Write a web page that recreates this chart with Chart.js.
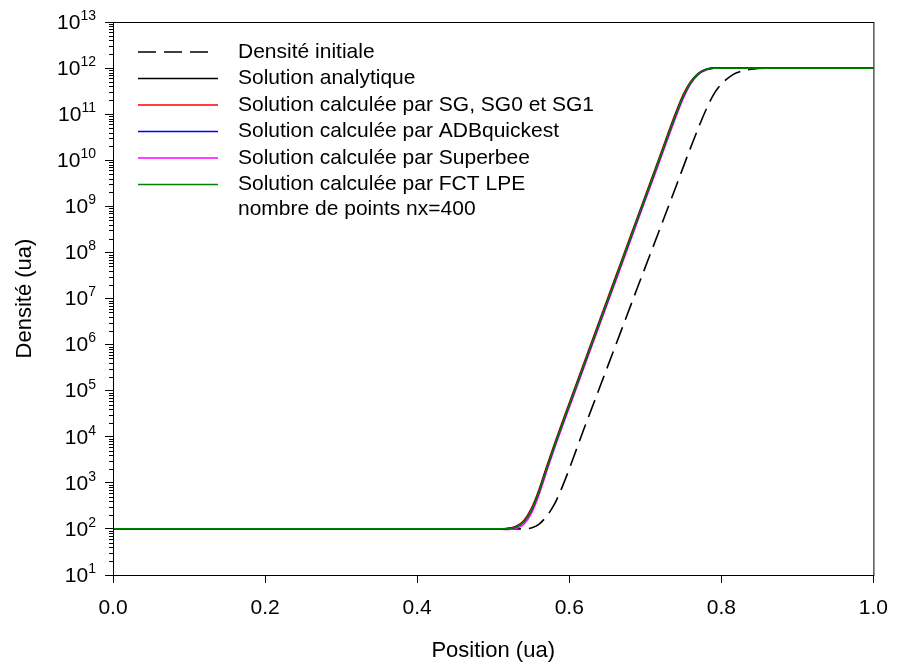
<!DOCTYPE html>
<html>
<head>
<meta charset="utf-8">
<script src="https://cdn.jsdelivr.net/npm/chart.js@4.4.0/dist/chart.umd.min.js"></script>
<style>
    html, body { margin: 0; padding: 0; background: #fff; }
</style>
</head>
<body>
<canvas id="densityChart" width="901" height="666"></canvas>
<script>
// values
const positions = [0, 0.50, 0.52, 0.53, 0.54, 0.55, 0.56, 0.57, 0.58, 0.59, 0.60, 0.62, 0.64, 0.66, 0.68, 0.70, 0.72, 0.74, 0.75, 0.76, 0.77, 0.78, 0.79, 1.0];

const analytique = [100, 100, 102, 110, 141, 251, 631, 1995, 6026, 1.74e4, 4.9e4, 3.9e5, 3.1e6, 2.45e7, 1.95e8, 1.55e9, 1.23e10, 9.8e10, 2.5e11, 5.0e11, 7.6e11, 9.3e11, 1e12, 1e12];
const solSG = [100, 100, 103, 114, 150, 275, 700, 2200, 6630, 1.91e4, 5.4e4, 4.3e5, 3.4e6, 2.7e7, 2.15e8, 1.7e9, 1.35e10, 1.08e11, 2.7e11, 5.2e11, 7.8e11, 9.4e11, 1e12, 1e12];
const solADB = [100, 100, 102, 111, 143, 255, 640, 2020, 6090, 1.76e4, 4.95e4, 3.94e5, 3.13e6, 2.47e7, 1.97e8, 1.57e9, 1.24e10, 9.9e10, 2.5e11, 5.0e11, 7.6e11, 9.3e11, 1e12, 1e12];
const solSuperbee = [100, 100, 97, 102, 125, 215, 540, 1700, 5240, 1.51e4, 4.26e4, 3.4e5, 2.7e6, 2.13e7, 1.7e8, 1.35e9, 1.07e10, 8.5e10, 2.2e11, 4.6e11, 7.3e11, 9.1e11, 9.9e11, 1e12];
const solFCT = [100, 100, 102, 110, 142, 252, 632, 2000, 6026, 1.74e4, 4.9e4, 3.9e5, 3.1e6, 2.45e7, 1.95e8, 1.55e9, 1.23e10, 9.8e10, 2.5e11, 5.0e11, 7.6e11, 9.3e11, 1e12, 1e12];

const initPositions = [0, 0.54, 0.55, 0.56, 0.57, 0.58, 0.59, 0.60, 0.61, 0.62, 0.64, 0.66, 0.68, 0.70, 0.72, 0.74, 0.76, 0.78, 0.79, 0.80, 0.81, 0.82, 0.84, 0.86, 1.0];
const initiale = [100, 100, 105, 126, 186, 331, 759, 1995, 5623, 1.58e4, 1.17e5, 8.7e5, 6.5e6, 4.8e7, 3.5e8, 2.6e9, 1.95e10, 1.26e11, 2.7e11, 4.5e11, 6.3e11, 7.9e11, 9.5e11, 1e12, 1e12];

const xTicks = [0, 0.2, 0.4, 0.6, 0.8, 1.0];
const yTicks = [1e1, 1e2, 1e3, 1e4, 1e5, 1e6, 1e7, 1e8, 1e9, 1e10, 1e11, 1e12, 1e13];
const yTickExps = ['1', '2', '3', '4', '5', '6', '7', '8', '9', '10', '11', '12', '13'];

const legendLabels = [
    'Densité initiale',
    'Solution analytique',
    'Solution calculée par SG, SG0 et SG1',
    'Solution calculée par ADBquickest',
    'Solution calculée par Superbee',
    'Solution calculée par FCT LPE'
];
const legendNote = 'nombre de points nx=400';

const FONT = "'Liberation Sans', Arial, sans-serif";

function toPoints(xs, ys) {
    return xs.map((x, i) => ({ x: x, y: ys[i] }));
}

function lineSet(label, xs, ys, color, order, dash) {
    return {
        label: label,
        data: toPoints(xs, ys),
        borderColor: color,
        borderWidth: 1.6,
        borderDash: dash || [],
        pointRadius: 0,
        fill: false,
        cubicInterpolationMode: 'monotone',
        order: order
    };
}

const datasets = [
    lineSet(legendLabels[0], initPositions, initiale, '#000000', 5, [18, 8]),
    lineSet(legendLabels[1], positions, analytique, '#000000', 1),
    lineSet(legendLabels[2], positions, solSG, '#ff0000', 3),
    lineSet(legendLabels[3], positions, solADB, '#0000ff', 2),
    lineSet(legendLabels[4], positions, solSuperbee, '#ff00ff', 4),
    lineSet(legendLabels[5], positions, solFCT, '#008000', 0)
];

// frame, minor ticks, y labels with exponent, legend inside the plot
const decorPlugin = {
    id: 'decor',
    afterDraw(chart) {
        const ctx = chart.ctx;
        const a = chart.chartArea;
        const y = chart.scales.y;

        ctx.save();
        ctx.strokeStyle = '#000';
        ctx.lineWidth = 1;
        ctx.strokeRect(a.left + 0.5, a.top + 0.5, a.right - a.left, a.bottom - a.top);

        // minor ticks on the log axis
        ctx.beginPath();
        for (let d = 0; d < yTicks.length - 1; d++) {
            for (let k = 2; k < 10; k++) {
                const py = Math.round(y.getPixelForValue(yTicks[d] * k)) + 0.5;
                ctx.moveTo(a.left - 4, py);
                ctx.lineTo(a.left, py);
            }
        }
        ctx.stroke();

        // y tick labels 10^n
        ctx.fillStyle = '#000';
        ctx.textBaseline = 'middle';
        yTicks.forEach((v, i) => {
            const py = y.getPixelForValue(v);
            ctx.font = '14px ' + FONT;
            const expW = ctx.measureText(yTickExps[i]).width;
            const right = a.left - 17;
            ctx.textAlign = 'left';
            ctx.fillText(yTickExps[i], right - expW, py - 6);
            ctx.font = '21px ' + FONT;
            ctx.textAlign = 'right';
            ctx.fillText('10', right - expW, py + 1);
        });

        // legend
        const x0 = a.left + 25, tx = a.left + 125;
        ctx.font = '21px ' + FONT;
        ctx.textAlign = 'left';
        chart.data.datasets.forEach((ds, i) => {
            const ry = a.top + 30 + i * 26.5;
            const x1 = ds.borderDash.length ? a.left + 96 : a.left + 105;
            ctx.beginPath();
            ctx.strokeStyle = ds.borderColor;
            ctx.lineWidth = ds.borderWidth;
            ctx.setLineDash(ds.borderDash);
            ctx.moveTo(x0, ry);
            ctx.lineTo(x1, ry);
            ctx.stroke();
            ctx.setLineDash([]);
            ctx.fillText(ds.label, tx, ry);
        });
        ctx.fillText(legendNote, tx, a.top + 187);
        ctx.restore();
    }
};

const ctx = document.getElementById('densityChart').getContext('2d');
const myChart = new Chart(ctx, {
    type: 'line',
    data: { datasets: datasets },
    plugins: [decorPlugin],
    options: {
        responsive: false,
        animation: false,
        devicePixelRatio: 1,
        layout: { padding: { top: 22, right: 18, left: 0, bottom: 0 } },
        plugins: {
            legend: { display: false },
            tooltip: { enabled: false }
        },
        scales: {
            x: {
                type: 'linear',
                min: 0,
                max: 1,
                afterBuildTicks: s => { s.ticks = xTicks.map(v => ({ value: v })); },
                afterFit: s => { s.height = 91; },
                ticks: {
                    callback: v => v.toFixed(1),
                    font: { family: FONT, size: 21 },
                    color: '#000',
                    padding: 13,
                    maxRotation: 0,
                    autoSkip: false
                },
                grid: { drawOnChartArea: false, tickLength: 8, tickColor: '#000', color: '#000' },
                border: { color: '#000', width: 1 },
                title: {
                    display: true,
                    text: 'Position (ua)',
                    font: { family: FONT, size: 22 },
                    color: '#000',
                    padding: { bottom: 2 }
                }
            },
            y: {
                type: 'logarithmic',
                min: 1e1,
                max: 1e13,
                afterBuildTicks: s => { s.ticks = yTicks.map(v => ({ value: v })); },
                afterFit: s => { s.width = 113; },
                ticks: { display: false },
                grid: { drawOnChartArea: false, tickLength: 8, tickColor: '#000', color: '#000' },
                border: { color: '#000', width: 1 },
                title: {
                    display: true,
                    text: 'Densité (ua)',
                    font: { family: FONT, size: 22 },
                    color: '#000',
                    padding: { top: 12 }
                }
            }
        }
    }
});
</script>
</body>
</html>
